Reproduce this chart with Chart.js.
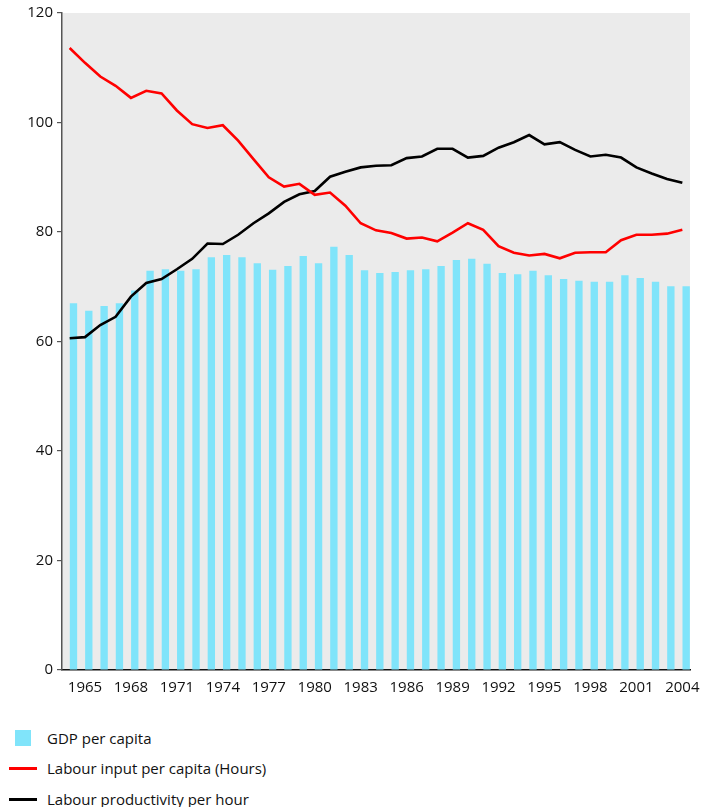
<!DOCTYPE html>
<html>
<head>
<meta charset="utf-8">
<script src="https://cdn.jsdelivr.net/npm/chart.js@4.4.1/dist/chart.umd.min.js"></script>
<style>
  html, body { margin: 0; padding: 0; background: #fff; }
  #wrap { position: relative; width: 710px; height: 807px; font-family: "Open Sans", "Noto Sans", sans-serif; color: #111; }
  #c { position: absolute; left: 0; top: 0; }
  .lg-item { position: absolute; left: 47px; font-size: 15px; line-height: 20px; height: 20px; white-space: nowrap; }
  .sw { position: absolute; }
</style>
</head>
<body>
<div id="wrap">
  <canvas id="c" width="710" height="705"></canvas>
  <div id="legend"></div>
</div>
<script>
// ---- data ----
const years = ["1964","1965","1966","1967","1968","1969","1970","1971","1972","1973","1974","1975","1976","1977","1978","1979","1980","1981","1982","1983","1984","1985","1986","1987","1988","1989","1990","1991","1992","1993","1994","1995","1996","1997","1998","1999","2000","2001","2002","2003","2004"];
const gdpPerCapita = [67.0,65.6,66.5,67.0,69.3,72.9,73.2,72.9,73.2,75.4,75.8,75.4,74.3,73.1,73.8,75.6,74.3,77.3,75.8,73.0,72.5,72.7,73.0,73.2,73.8,74.9,75.1,74.2,72.5,72.3,72.9,72.1,71.4,71.1,70.9,70.9,72.1,71.6,70.9,70.1,70.1];
const labourInput = [113.6,110.9,108.4,106.7,104.5,105.8,105.3,102.2,99.7,99.0,99.5,96.7,93.3,90.0,88.3,88.8,86.8,87.2,84.8,81.6,80.3,79.8,78.8,79.0,78.3,79.9,81.6,80.4,77.4,76.2,75.7,76.0,75.2,76.2,76.3,76.3,78.5,79.5,79.5,79.7,80.4];
const labourProductivity = [60.6,60.8,63.0,64.5,68.2,70.7,71.4,73.2,75.1,77.9,77.8,79.5,81.6,83.4,85.5,86.9,87.5,90.1,91.0,91.8,92.1,92.2,93.5,93.8,95.2,95.2,93.6,93.9,95.4,96.4,97.7,96.0,96.4,95.0,93.8,94.1,93.6,91.8,90.7,89.7,89.0];
const yTicks = [0,20,40,60,80,100,120];
const seriesNames = ["GDP per capita","Labour input per capita (Hours)","Labour productivity per hour"];
const colours = ["#80e4fa","#ff0000","#000000"];
const labelEvery = 3, firstLabelYear = 1965;

const bgPlugin = {
  id: 'plotBg',
  beforeDraw(chart) {
    const a = chart.chartArea, ctx = chart.ctx;
    ctx.save();
    ctx.fillStyle = '#ebebeb';
    ctx.fillRect(a.left, a.top, a.right - a.left, a.bottom - a.top);
    ctx.restore();
  }
};

new Chart(document.getElementById('c'), {
  data: {
    labels: years,
    datasets: [
      { type: 'bar', label: '', data: years.map(() => null), order: 2,
        barPercentage: 0.96, categoryPercentage: 1.0 },
      { type: 'bar', label: seriesNames[0], data: gdpPerCapita, backgroundColor: colours[0],
        borderWidth: 0, barPercentage: 0.96, categoryPercentage: 1.0, order: 2 },
      { type: 'line', label: seriesNames[1], data: labourInput, borderColor: colours[1],
        borderWidth: 2.6, pointRadius: 0, tension: 0, fill: false, order: 0 },
      { type: 'line', label: seriesNames[2], data: labourProductivity, borderColor: colours[2],
        borderWidth: 2.6, pointRadius: 0, tension: 0, fill: false, order: 0 }
    ]
  },
  options: {
    responsive: false,
    animation: false,
    layout: { padding: { left: 0, right: 20, top: 13, bottom: 0 } },
    plugins: { legend: { display: false }, tooltip: { enabled: false } },
    scales: {
      x: {
        type: 'category',
        offset: true,
        grid: { display: false, drawTicks: false },
        border: { display: true, color: '#111', width: 1.5 },
        ticks: {
          autoSkip: false, maxRotation: 0, minRotation: 0, padding: 9,
          color: '#111', font: { family: '"Open Sans", "Noto Sans", sans-serif', size: 15 },
          callback: function(v, i) {
            const y = parseInt(years[i], 10);
            return ((y - firstLabelYear) % labelEvery === 0) ? years[i] : '';
          }
        },
        afterFit(scale) { scale.height = 35; }
      },
      y: {
        min: 0, max: 120,
        afterBuildTicks(scale) { scale.ticks = yTicks.map(v => ({ value: v })); },
        grid: { display: true, drawOnChartArea: false, drawTicks: true, tickLength: 5, color: '#555', lineWidth: 1.2 },
        border: { display: true, color: '#555', width: 1.5 },
        ticks: { padding: 4, color: '#111', font: { family: '"Open Sans", "Noto Sans", sans-serif', size: 15 } },
        afterFit(scale) { scale.width = 62; }
      }
    }
  },
  plugins: [bgPlugin]
});

// HTML legend
const lg = document.getElementById('legend');
const rows = [
  { name: seriesNames[0], colour: colours[0], kind: 'box', cy: 738 },
  { name: seriesNames[1], colour: colours[1], kind: 'line', cy: 768 },
  { name: seriesNames[2], colour: colours[2], kind: 'line', cy: 799 }
];
rows.forEach(r => {
  const sw = document.createElement('div');
  sw.className = 'sw';
  if (r.kind === 'box') {
    Object.assign(sw.style, { left: '15px', top: (r.cy - 8) + 'px', width: '16px', height: '16px', background: r.colour });
  } else {
    Object.assign(sw.style, { left: '9px', top: (r.cy - 1.5) + 'px', width: '28px', height: '3px', background: r.colour });
  }
  lg.appendChild(sw);
  const t = document.createElement('div');
  t.className = 'lg-item';
  t.style.top = (r.cy - 10) + 'px';
  t.textContent = r.name;
  lg.appendChild(t);
});
</script>
</body>
</html>
